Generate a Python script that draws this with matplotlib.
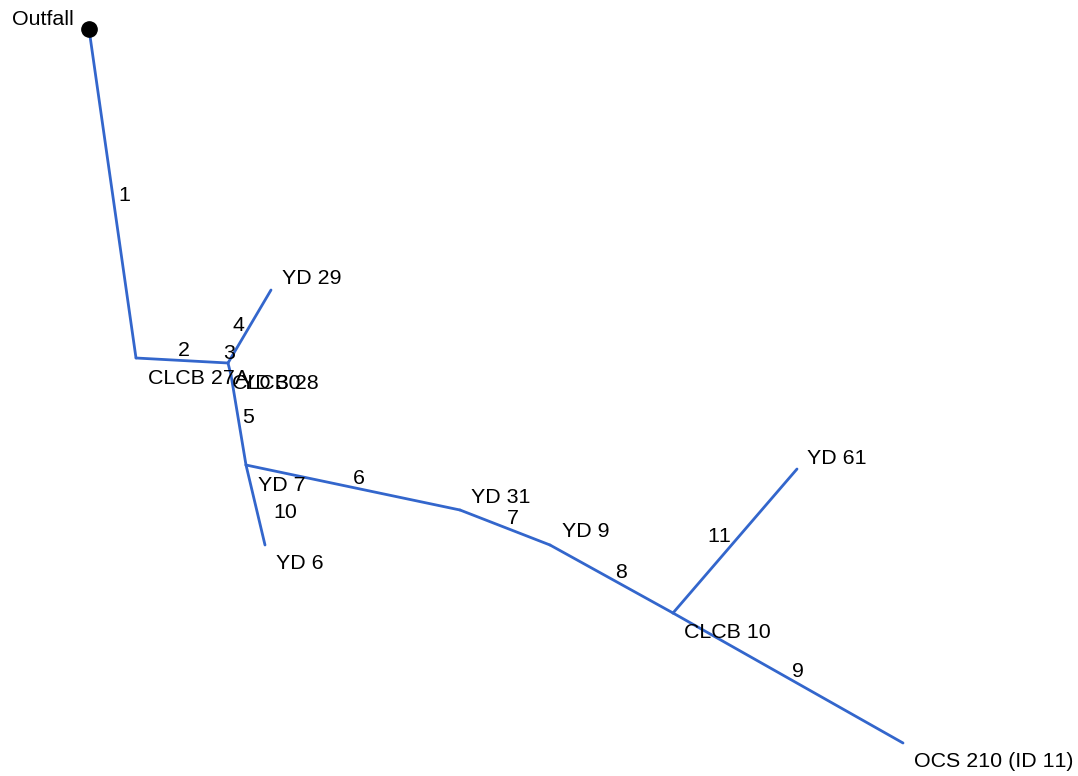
import matplotlib.pyplot as plt

plt.rcParams['font.family'] = ['Liberation Sans', 'DejaVu Sans']
plt.rcParams['text.kerning_factor'] = 6

# node positions, in image pixels
node_names = ['Outfall', 'CLCB 27A', 'CLCB 28', 'YD 29', 'YD 30', 'YD 7', 'YD 31', 'YD 9',
              'CLCB 10', 'OCS 210 (ID 11)', 'YD 6', 'YD 61']
node_x = [89, 136, 228, 271, 231, 246, 460, 550, 673, 903, 265, 797]
node_y = [29, 358, 363, 290, 375, 465, 510, 545, 613, 743, 545, 469]

# conduits: upstream, downstream, label
pipe_from = [0, 1, 2, 2, 4, 5, 6, 7, 8, 5, 8]
pipe_to = [1, 2, 4, 3, 5, 6, 7, 8, 9, 10, 11]
pipe_labels = ['1', '2', '3', '4', '5', '6', '7', '8', '9', '10', '11']
pipe_label_x = [124, 184, 229, 238, 248, 359, 513, 621, 798, 285, 719]
pipe_label_y = [194, 349, 352, 324, 416, 477, 517, 571, 670, 511, 535]

node_label_x = [74, 148, 232, 282, 241, 258, 471, 562, 684, 914, 276, 807]
node_label_y = [18, 377, 382, 277, 382, 484, 496, 530, 631, 760, 562, 457]
node_label_ha = ['right', 'left', 'left', 'left', 'left', 'left', 'left', 'left', 'left',
                 'left', 'left', 'left']

fig = plt.figure(figsize=(10.78, 7.76), dpi=100)
ax = fig.add_axes([0, 0, 1, 1])
ax.set_xlim(0, 1078)
ax.set_ylim(776, 0)
ax.axis('off')

for a, b in zip(pipe_from, pipe_to):
    ax.plot([node_x[a], node_x[b]], [node_y[a], node_y[b]], color='#3366CC', lw=2,
            solid_capstyle='round')

ax.plot(node_x[0], node_y[0], 'o', color='black', ms=11)

for name, x, y, ha in zip(node_names, node_label_x, node_label_y, node_label_ha):
    ax.text(x, y + 1.5, name, fontsize=15.4, ha=ha, va='center', color='black')

for lab, x, y in zip(pipe_labels, pipe_label_x, pipe_label_y):
    ax.text(x, y + 1.5, lab, fontsize=15.4, ha='center', va='center', color='black')

fig.savefig('out.png', dpi=100)
